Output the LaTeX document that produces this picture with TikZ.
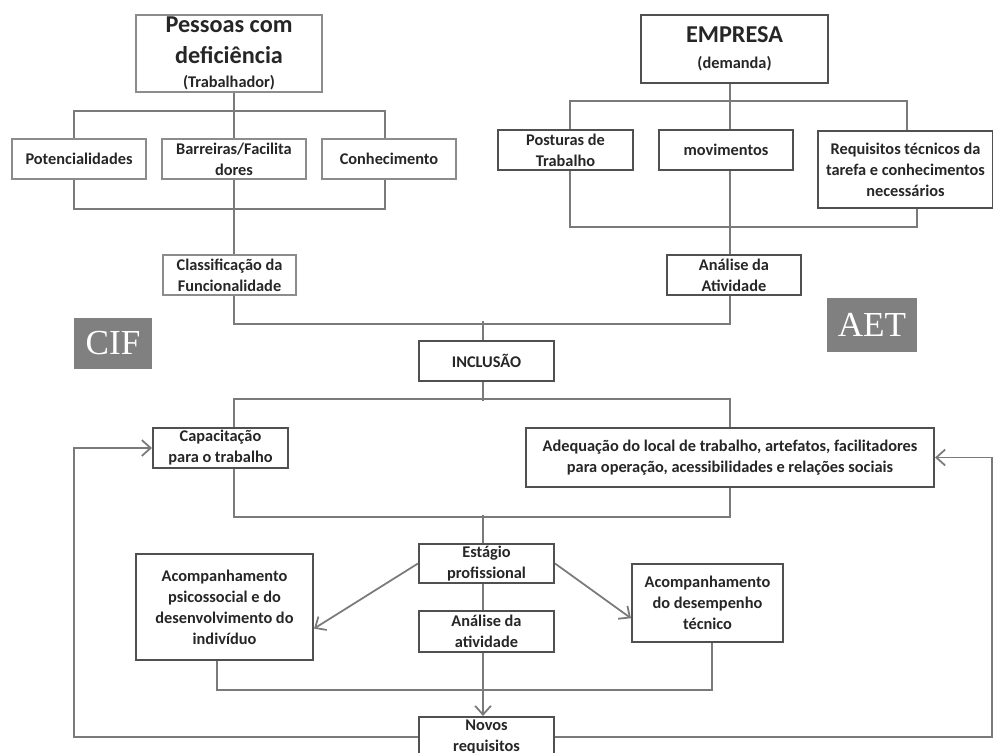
\documentclass[tikz,border=0pt]{standalone}
\usepackage{fontspec}
\setmainfont{Carlito}
\newfontfamily\labelfont{Liberation Serif}
\usepackage{tikz}
\usetikzlibrary{calc}
\usetikzlibrary{arrows.meta}

\definecolor{lineg}{HTML}{7A7A7A}
\definecolor{lightb}{HTML}{8C8C8C}
\definecolor{darkb}{HTML}{505050}
\definecolor{tagg}{HTML}{808080}

\newcommand{\bigtxt}{\fontsize{13.8}{17}\selectfont}
\newcommand{\smalltxt}{\fontsize{9.3}{12}\selectfont}

\begin{document}
\begin{tikzpicture}[x=0.02cm,y=-0.02cm,
    lightbox/.style={draw=lightb,line width=1.2pt,fill=white,align=center,inner sep=1pt,
        font=\bfseries\smalltxt,text=black!85},
    darkbox/.style={draw=darkb,line width=1.2pt,fill=white,align=center,inner sep=1pt,
        font=\bfseries\smalltxt,text=black!85},
    conn/.style={draw=lineg,line width=1pt},
    arr/.style={conn,-{Straight Barb[length=5pt,width=9pt]}},
    tagbox/.style={fill=tagg,text=white,font=\labelfont\fontsize{20}{20}\selectfont,inner sep=0pt}]

            % Page frame
            \useasboundingbox (0,0) rectangle (993,753);
            \clip (0,0) rectangle (993,753);

            % Columns of the bus lines
            \coordinate (cA) at (74,0);
            \coordinate (cB) at (234,0);
            \coordinate (cC) at (385,0);
            \coordinate (cM) at (483,0);
            \coordinate (cD) at (570,0);
            \coordinate (cE) at (730,0);
            \coordinate (cF) at (907,0);
            \coordinate (cG) at (917,0);
            \coordinate (cP) at (217,0);
            \coordinate (cQ) at (712,0);
            \coordinate (cR) at (992,0);

            % Draw worker side
            \node[lightbox,minimum width=3.72cm,minimum height=1.54cm] (pessoas) at (229,53.5)
                {\bigtxt Pessoas com\\[5.5pt]\bigtxt deficiência\\[1.5pt]\smalltxt (Trabalhador)};
            \node[lightbox,minimum width=2.68cm,minimum height=0.8cm] (pot) at (79,159) {Potencialidades};
            \node[lightbox,minimum width=2.88cm,minimum height=0.8cm] (barr) at (234,159) {Barreiras/Facilita\\dores};
            \node[lightbox,minimum width=2.68cm,minimum height=0.8cm] (conh) at (389,159) {Conhecimento};
            \node[lightbox,minimum width=2.66cm,minimum height=0.8cm] (classif) at (229.5,275) {Classificação da\\Funcionalidade};

            % Draw company side
            \node[darkbox,minimum width=3.74cm,minimum height=1.36cm] (empresa) at (734.5,49)
                {\bigtxt EMPRESA\\[3pt]\smalltxt (demanda)};
            \node[darkbox,minimum width=2.7cm,minimum height=0.8cm] (post) at (565.5,150) {Posturas de\\Trabalho};
            \node[darkbox,minimum width=2.68cm,minimum height=0.8cm] (mov) at (726,150) {movimentos};
            \node[darkbox,minimum width=3.5cm,minimum height=1.54cm] (req) at (905.5,169.5)
                {Requisitos técnicos da\\tarefa e conhecimentos\\necessários};
            \node[darkbox,minimum width=2.68cm,minimum height=0.8cm] (anaat) at (734,275) {Análise da\\Atividade};

            % Draw inclusion and below
            \node[darkbox,minimum width=2.7cm,minimum height=0.8cm] (incl) at (486.5,361) {INCLUSÃO};
            \node[darkbox,minimum width=2.7cm,minimum height=0.8cm] (capac) at (220.5,448) {Capacitação\\para o trabalho};
            \node[darkbox,minimum width=8.16cm,minimum height=1.18cm] (adeq) at (730,457.5)
                {Adequação do local de trabalho, artefatos, facilitadores\\para operação, acessibilidades e relações sociais};
            \node[darkbox,minimum width=2.7cm,minimum height=0.78cm] (estag) at (486.5,563.5) {Estágio\\profissional};
            \node[darkbox,minimum width=2.7cm,minimum height=0.82cm] (anaat2) at (486.5,631.5) {Análise da\\atividade};
            \node[darkbox,minimum width=3.54cm,minimum height=2.12cm] (psico) at (224.5,607)
                {Acompanhamento\\psicossocial e do\\desenvolvimento do\\indivíduo};
            \node[darkbox,minimum width=3.02cm,minimum height=1.56cm] (desemp) at (707.5,603)
                {Acompanhamento\\do desempenho\\técnico};
            \node[darkbox,minimum width=2.7cm,minimum height=0.8cm] (novos) at (486.5,737) {Novos\\requisitos};

            % Draw tags
            \node[tagbox,minimum width=1.56cm,minimum height=1.02cm] (cif) at (113,343.5) {CIF};
            \node[tagbox,minimum width=1.8cm,minimum height=1.08cm] (aet) at (872,325) {AET};

            % Draw worker tree
            \draw[conn] (pessoas.south -| cB) -- (barr.north -| cB);
            \draw[conn] (pot.north -| cA) -- ++(0,-27) -| (conh.north -| cC);
            \draw[conn] (pot.south -| cA) -- ++(0,29) -| (conh.south -| cC);
            \draw[conn] (barr.south -| cB) -- (classif.north -| cB);

            % Draw company tree
            \draw[conn] (empresa.south -| cE) -- (mov.north -| cE);
            \draw[conn] (post.north -| cD) -- ++(0,-28) -| (req.north -| cF);
            \draw[conn] (post.south -| cD) -- ++(0,56) -| (req.south -| cG);
            \draw[conn] (mov.south -| cE) -- (anaat.north -| cE);

            % Draw joins round inclusion
            \draw[conn] (classif.south -| cB) -- ++(0,28) -| (anaat.south -| cE);
            \draw[conn] (incl.north -| cM) -- ++(0,-19);
            \draw[conn] (incl.south -| cM) -- ++(0,19);
            \draw[conn] (capac.north -| cB) -- ++(0,-28) -| (adeq.north -| cE);
            \draw[conn] (capac.south -| cB) -- ++(0,48) -| (adeq.south -| cE);
            \draw[conn] (estag.north -| cM) -- ++(0,-28);
            \draw[conn] (estag.south -| cM) -- (anaat2.north -| cM);
            \draw[conn] (psico.south -| cP) -- ++(0,29) -| (desemp.south -| cQ);

            % Draw arrows
            \draw[arr] (estag.west) -- ($(psico.south east)!0.3!(psico.north east)$);
            \draw[arr] (estag.east) -- ($(desemp.south west)!0.31!(desemp.north west)$);
            \draw[arr] (anaat2.south -| cM) -- (novos.north -| cM);
            \draw[arr] (novos.west) -| (cA |- capac.west) -- (capac.west);
            \draw[arr] (novos.east) -| (cR |- adeq.east) -- (adeq.east);

\end{tikzpicture}
\end{document}
